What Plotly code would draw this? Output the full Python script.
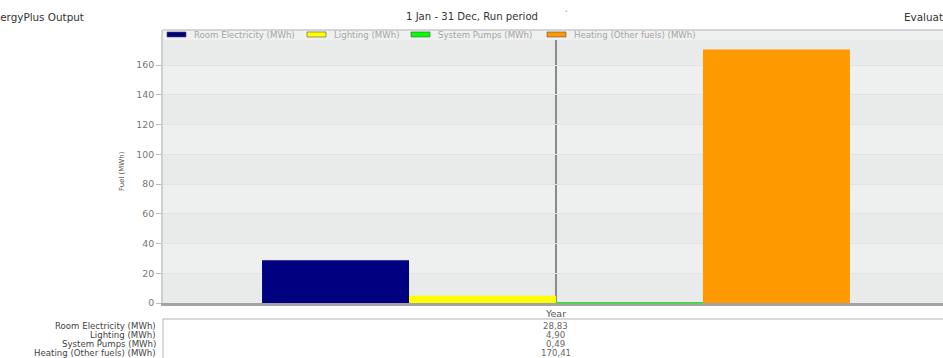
import plotly.graph_objects as go

# ---- data ----
categories = ["Year"]
series_names = ["Room Electricity (MWh)", "Lighting (MWh)", "System Pumps (MWh)", "Heating (Other fuels) (MWh)"]
series_values = [28.83, 4.90, 0.49, 170.41]
series_colors = ["#000080", "#ffff00", "#00ff00", "#ff9900"]
y_ticks = [0, 20, 40, 60, 80, 100, 120, 140, 160]
title_center = "1 Jan - 31 Dec, Run period"
title_left = "EnergyPlus Output"
title_right = "Evaluation"
y_title = "Fuel (MWh)"

# ---- layout geometry (page pixels) ----
W, H = 943, 358
PL, PT, PB, PR = 163, 30, 303, 943
PW, PH = PR - PL, PB - PT
FONT = "DejaVu Sans"


def px(x):
    return (x - PL) / PW


def py(y):
    return (PB - y) / PH


fig = go.Figure()
for name, val, col in zip(series_names, series_values, series_colors):
    fig.add_trace(go.Bar(
        x=categories, y=[val], name=name,
        marker=dict(color=col, line=dict(width=0)),
        showlegend=False,
    ))

shapes = []
# alternating bands
for i, lo in enumerate(range(0, 200, 20)):
    shapes.append(dict(type="rect", xref="paper", yref="y", x0=0, x1=1, y0=lo, y1=lo + 20,
                       fillcolor="#e9eaea" if i % 2 == 0 else "#eeefef",
                       line=dict(width=0), layer="below"))
# legend strip
shapes.append(dict(type="rect", xref="paper", yref="paper", x0=0, x1=1, y0=py(40), y1=1,
                   fillcolor="#eff0f0", line=dict(width=0), layer="above"))
shapes.append(dict(type="line", xref="paper", yref="paper", x0=0, x1=1, y0=1, y1=1,
                   line=dict(color="#c8c8c8", width=1.5), layer="above"))
# table box lines
shapes.append(dict(type="line", xref="paper", yref="paper", x0=0, x1=1, y0=py(319), y1=py(319),
                   line=dict(color="#b4b4b4", width=1), layer="above"))
shapes.append(dict(type="line", xref="paper", yref="paper", x0=0, x1=0, y0=py(319), y1=py(360),
                   line=dict(color="#b4b4b4", width=1), layer="above"))

annotations = []
# custom legend
leg_starts = [167, 307, 411, 547]
for x0, name, col in zip(leg_starts, series_names, series_colors):
    shapes.append(dict(type="rect", xref="paper", yref="paper", x0=px(x0), x1=px(x0 + 19),
                       y0=py(37), y1=py(32), fillcolor=col,
                       line=dict(color="#555555", width=0.6), layer="above"))
    annotations.append(dict(x=px(x0 + 25), y=py(34.5), xref="paper", yref="paper", text=name,
                            showarrow=False, xanchor="left", yanchor="middle",
                            font=dict(family=FONT, size=8.6, color="#a6a6a6")))

# titles
annotations.append(dict(x=px(86), y=py(17), xref="paper", yref="paper", text=title_left,
                        showarrow=False, xanchor="right", yanchor="middle",
                        font=dict(family=FONT, size=10.4, color="#333333")))
annotations.append(dict(x=px(472), y=py(17), xref="paper", yref="paper", text=title_center,
                        showarrow=False, xanchor="center", yanchor="middle",
                        font=dict(family=FONT, size=10.1, color="#333333")))
annotations.append(dict(x=px(902), y=py(17), xref="paper", yref="paper", text=title_right,
                        showarrow=False, xanchor="left", yanchor="middle",
                        font=dict(family=FONT, size=10.4, color="#333333")))
annotations.append(dict(x=px(566), y=py(11), xref="paper", yref="paper", text="-",
                        showarrow=False, xanchor="center", yanchor="middle",
                        font=dict(family=FONT, size=7, color="#555555")))
# y title
annotations.append(dict(x=px(122), y=py(171), xref="paper", yref="paper", text=y_title,
                        showarrow=False, textangle=-90, xanchor="center", yanchor="middle",
                        font=dict(family=FONT, size=7, color="#555555")))

# data table
row_y = [326, 335, 344, 353]
for ry, name, val in zip(row_y, series_names, series_values):
    annotations.append(dict(x=px(158), y=py(ry), xref="paper", yref="paper", text=name,
                            showarrow=False, xanchor="right", yanchor="middle",
                            font=dict(family=FONT, size=8.6, color="#444444")))
    annotations.append(dict(x=categories[0], y=py(ry), xref="x", yref="paper",
                            text=f"{val:.2f}".replace(".", ","),
                            showarrow=False, xanchor="center", yanchor="middle",
                            font=dict(family=FONT, size=8.6, color="#666666")))

fig.update_layout(
    width=W, height=H,
    margin=dict(l=PL, r=W - PR, t=PT, b=H - PB, pad=0),
    paper_bgcolor="white", plot_bgcolor="#ececec",
    barmode="group", bargap=0.252, bargroupgap=0,
    shapes=shapes, annotations=annotations,
    showlegend=False,
    xaxis=dict(range=[-0.5, 0.4924], showgrid=True, gridcolor="#8a8a8a", gridwidth=1.5,
               showline=True, linecolor="#a3a3a3", linewidth=3, ticks="",
               tickfont=dict(family=FONT, size=9.5, color="#555555"), zeroline=False,
               fixedrange=True),
    yaxis=dict(range=[0, PH / 1.487], tickvals=y_ticks, showgrid=True, gridcolor="#e2e3e3",
               gridwidth=1, zeroline=False, showline=True, linecolor="#cfcfcf", linewidth=2,
               ticks="outside", ticklen=5, tickcolor="#bbbbbb",
               tickfont=dict(family=FONT, size=9.4, color="#777777")),
)

fig.write_html(
    "out.html",
    config={"displayModeBar": False},
    post_script="document.body.style.margin='0';document.body.style.overflow='hidden';",
)
